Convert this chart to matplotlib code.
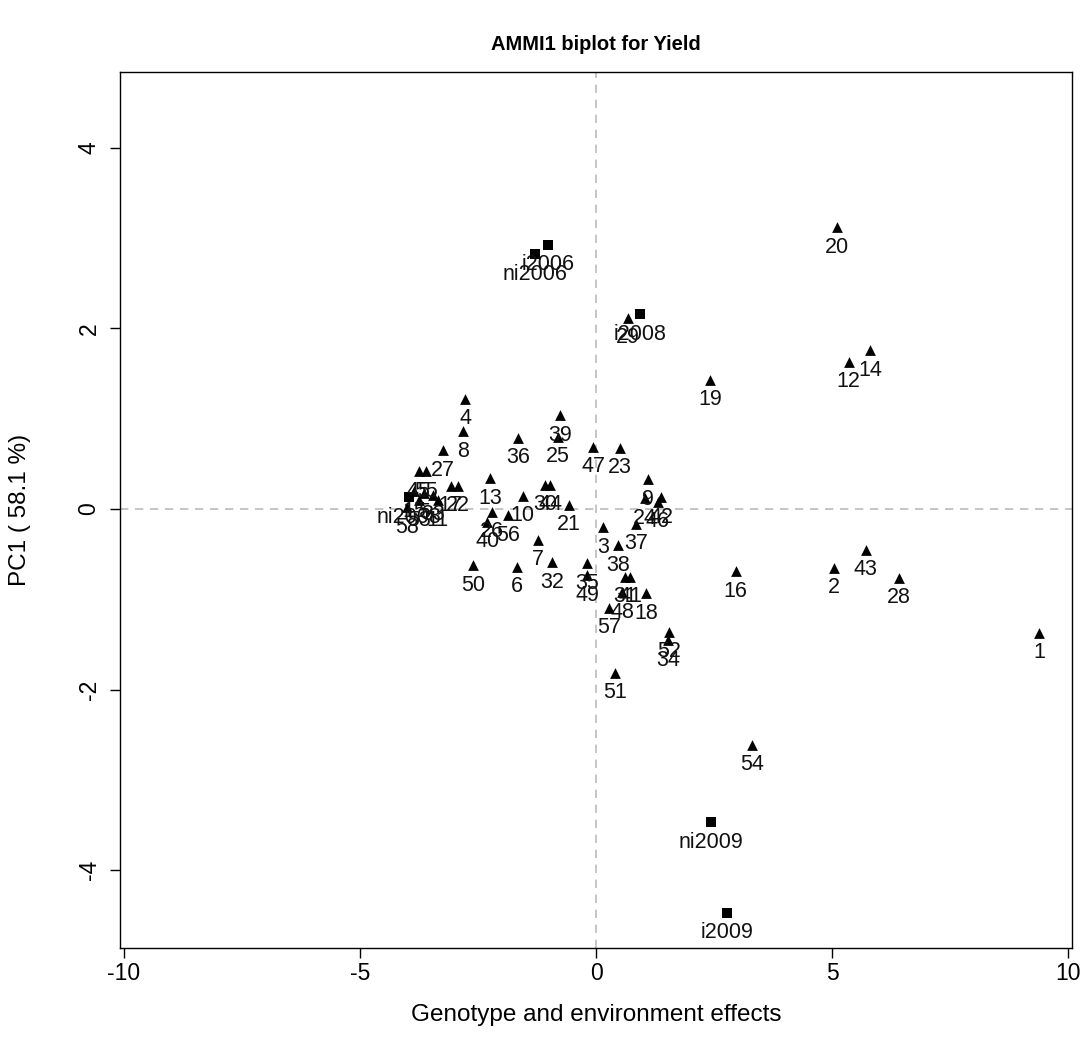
import matplotlib
matplotlib.use("Agg")
import matplotlib.pyplot as plt

plt.rcParams['font.family'] = ['Liberation Sans', 'DejaVu Sans']
plt.rcParams['axes.unicode_minus'] = False

gen_labels = [str(i) for i in range(1, 59)]
gen_x = [9.38, 5.04, 0.15, -2.77, -3.65, -1.67, -1.23, -2.81, 1.10, -1.55,
         -3.35, 5.35, -2.25, 5.80, -3.85, 2.96, -3.08, 1.06, 2.41, 5.10,
         -0.57, -2.93, 0.51, 1.03, -0.80, -2.20, -3.24, 6.41, 0.68, -1.08,
         0.61, -0.93, -3.45, 1.52, -0.19, -1.65, 0.85, 0.47, -0.76, -2.30,
         0.72, 1.38, 5.71, -0.97, -3.75, 1.31, -0.06, 0.55, -0.19, -2.60,
         0.40, 1.54, -3.75, 3.30, -3.60, -1.87, 0.28, -4.00]
gen_y = [-1.37, -0.65, -0.20, 1.22, 0.18, -0.64, -0.34, 0.86, 0.33, 0.15,
         0.10, 1.63, 0.34, 1.76, 0.20, -0.69, 0.26, -0.93, 1.43, 3.12,
         0.05, 0.26, 0.68, 0.12, 0.80, -0.03, 0.65, -0.76, 2.12, 0.27,
         -0.75, -0.59, 0.16, -1.45, -0.60, 0.79, -0.16, -0.40, 1.04, -0.14,
         -0.75, 0.13, -0.45, 0.27, 0.42, 0.08, 0.69, -0.92, -0.73, -0.62,
         -1.81, -1.36, 0.10, -2.61, 0.42, -0.07, -1.09, 0.02]

env_labels = ["i2006", "ni2006", "i2008", "ni2008", "i2009", "ni2009"]
env_x = [-1.02, -1.29, 0.93, -3.96, 2.77, 2.43]
env_y = [2.93, 2.82, 2.16, 0.13, -4.47, -3.47]

fig = plt.figure(figsize=(10.87, 10.59), dpi=100)
ax = fig.add_axes([0.1104, 0.1048, 0.8758, 0.8272])

ax.axhline(0, color='#bbbbbb', linestyle=(0, (5, 4)), linewidth=1.2, zorder=1)
ax.axvline(0, color='#bbbbbb', linestyle=(0, (5, 4)), linewidth=1.2, zorder=1)

ax.scatter(gen_x, gen_y, marker='^', s=60, color='black', zorder=3, linewidths=0)
ax.scatter(env_x, env_y, marker='s', s=50, color='black', zorder=3, linewidths=0)

lab_fs = 15.5
for lab, x, y in zip(gen_labels, gen_x, gen_y):
    ax.annotate(lab, (x, y), xytext=(0, -20), textcoords='offset pixels',
                ha='center', va='center', fontsize=lab_fs, color='#111111', zorder=4)
for lab, x, y in zip(env_labels, env_x, env_y):
    ax.annotate(lab, (x, y), xytext=(0, -20), textcoords='offset pixels',
                ha='center', va='center', fontsize=lab_fs, color='#111111', zorder=4)

ax.set_xlim(-10.08, 10.08)
ax.set_ylim(-4.86, 4.84)
ax.set_xticks([-10, -5, 0, 5, 10])
ax.set_yticks([-4, -2, 0, 2, 4])
ax.tick_params(direction='out', length=7, width=1, labelsize=16.5)
ax.tick_params(axis='x', pad=3)
ax.tick_params(axis='y', pad=7)
for lbl in ax.get_yticklabels():
    lbl.set_rotation(90)
    lbl.set_va('center')
for sp in ax.spines.values():
    sp.set_linewidth(1)

fig.text(0.5485, 1 - 1015 / 1059, "Genotype and environment effects",
         ha='center', va='center', fontsize=17.5)
fig.text(20 / 1087, 1 - 510 / 1059, "PC1 ( 58.1 %)", rotation=90,
         ha='center', va='center', fontsize=17.5)
fig.text(0.5485, 1 - 45 / 1059, "AMMI1 biplot for Yield",
         ha='center', va='center', fontsize=14.5, fontweight='bold')

fig.savefig("out.png", dpi=100)
